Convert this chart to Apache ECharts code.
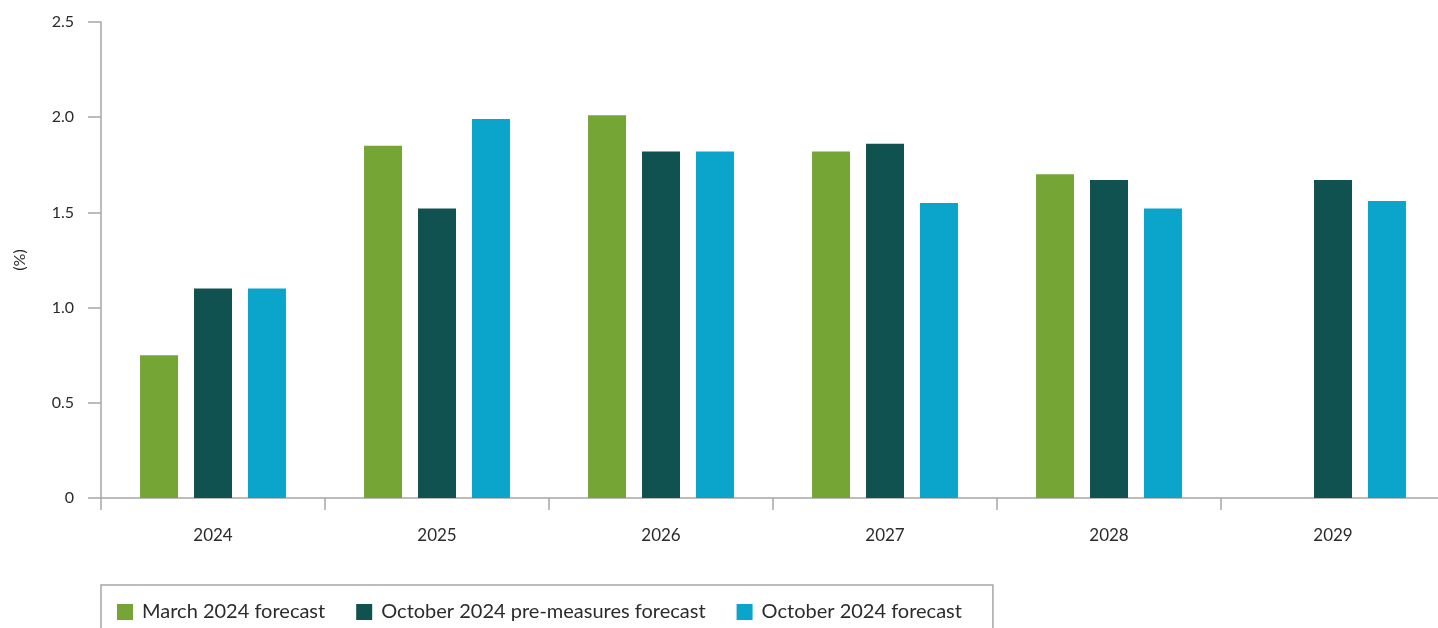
<!DOCTYPE html>
<html>
<head>
<meta charset="utf-8">
<script src="https://cdn.jsdelivr.net/npm/echarts@6/dist/echarts.min.js"></script>
<style>
  html, body { margin: 0; padding: 0; background: #fff; }
  #chart { width: 1438px; height: 628px; }
</style>
</head>
<body>
<div id="chart"></div>
<script>
// chart data
var years = ['2024', '2025', '2026', '2027', '2028', '2029']
var march2024 = [0.75, 1.85, 2.01, 1.82, 1.70, null]
var octPreMeasures = [1.10, 1.52, 1.82, 1.86, 1.67, 1.67]
var oct2024 = [1.10, 1.99, 1.82, 1.55, 1.52, 1.56]
var yTicks = ['0', '0.5', '1.0', '1.5', '2.0', '2.5']

var axisGrey = '#a6a6a6'
var textColor = '#2b2b2b'
var fontFamily = 'Lato, "Open Sans", sans-serif'

var myChart = echarts.init(document.getElementById('chart'))

var option = {
  backgroundColor: '#ffffff',
  textStyle: { fontFamily: fontFamily, color: textColor },
  animation: false,
  legend: {
    left: 101,
    top: 585,
    orient: 'horizontal',
    itemWidth: 16,
    itemHeight: 16,
    itemGap: 31,
    icon: 'rect',
    borderColor: axisGrey,
    borderWidth: 1.5,
    borderRadius: 0,
    padding: [17, 31, 40, 16],
    textStyle: {
      fontSize: 20,
      color: textColor,
      fontFamily: fontFamily,
      padding: [0, 0, 0, 4]
    },
    data: ['March 2024 forecast', 'October 2024 pre-measures forecast', 'October 2024 forecast']
  },
  grid: {
    left: 101,
    top: 22,
    width: 1344,
    height: 476,
    outerBoundsMode: 'none'
  },
  xAxis: {
    type: 'category',
    data: years,
    axisLine: { lineStyle: { color: axisGrey, width: 1.5 } },
    axisTick: { show: true, length: 12, lineStyle: { color: axisGrey, width: 1.5 } },
    axisLabel: { margin: 29, fontSize: 17, color: textColor, fontFamily: fontFamily },
    splitLine: { show: false }
  },
  yAxis: {
    type: 'value',
    min: 0,
    max: 2.5,
    interval: 0.5,
    name: '(%)',
    nameLocation: 'middle',
    nameRotate: 90,
    nameGap: 73,
    nameTextStyle: { fontSize: 16, color: textColor, fontFamily: fontFamily },
    axisLine: { show: true, lineStyle: { color: axisGrey, width: 1.5 } },
    axisTick: { show: true, length: 13, lineStyle: { color: axisGrey, width: 1.5 } },
    axisLabel: {
      margin: 27,
      fontSize: 16,
      color: textColor,
      fontFamily: fontFamily,
      formatter: function (v) {
        return yTicks[Math.round(v / 0.5)]
      }
    },
    splitLine: { show: false }
  },
  series: [
    {
      name: 'March 2024 forecast',
      type: 'bar',
      barWidth: 38,
      barGap: '42%',
      itemStyle: { color: '#74a535' },
      data: march2024
    },
    {
      name: 'October 2024 pre-measures forecast',
      type: 'bar',
      barWidth: 38,
      barGap: '42%',
      itemStyle: { color: '#10524f' },
      data: octPreMeasures
    },
    {
      name: 'October 2024 forecast',
      type: 'bar',
      barWidth: 38,
      barGap: '42%',
      itemStyle: { color: '#0ba5cc' },
      data: oct2024
    }
  ]
}

myChart.setOption(option)
window.onresize = myChart.resize
</script>
</body>
</html>
